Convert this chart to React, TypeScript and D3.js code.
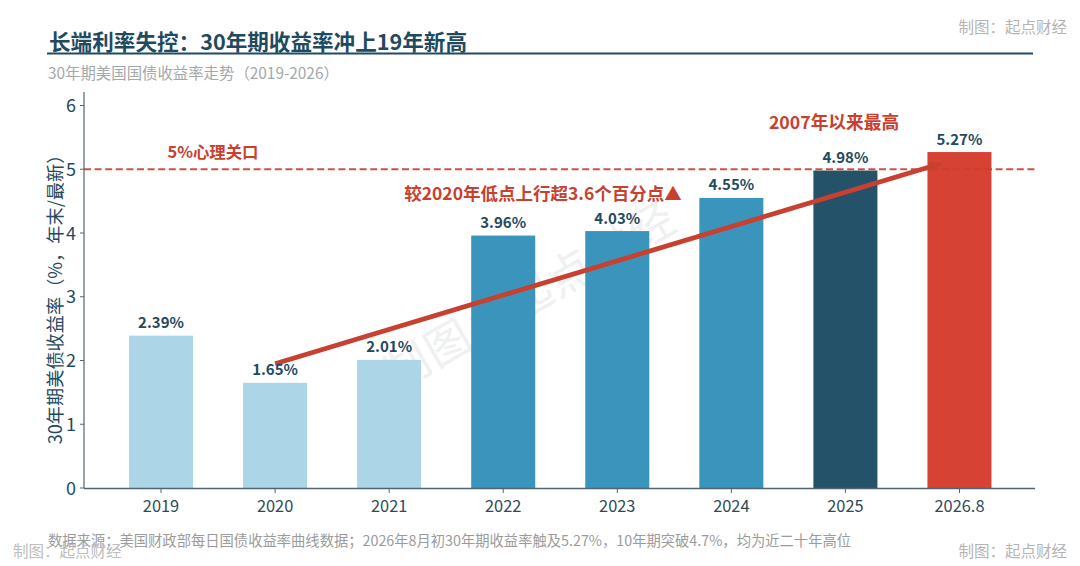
import React from "react";
import * as d3 from "d3";

const categories = ["2019", "2020", "2021", "2022", "2023", "2024", "2025", "2026.8"];
const yields = [2.39, 1.65, 2.01, 3.96, 4.03, 4.55, 4.98, 5.27];
const barColors = ["#acd6e8", "#acd6e8", "#acd6e8", "#3a94bb", "#3a94bb", "#3a94bb", "#245268", "#d64335"];
const yTicks = [0, 1, 2, 3, 4, 5, 6];
const threshold = 5;
const trendFrom = { cat: "2020", value: 1.95 };
const trendTo = { cat: "2026.8", value: 5.0 };

const FONT = "'Noto Sans CJK SC', 'Noto Sans', sans-serif";
const NAVY = "#1f4a5f";
const RED = "#c9402f";

export default function App() {
  const W = 1080, H = 566;
  const x = d3.scaleBand<string>().domain(categories).range([104, 1016.5]).paddingInner(0.4386).paddingOuter(0.2193);
  const y = d3.scaleLinear().domain([0, 6]).range([488, 105.5]);
  const cx = (c: string) => (x(c) as number) + x.bandwidth() / 2;
  const tx2 = cx(trendTo.cat) - 16;
  const ty2 = y(trendTo.value) - 6.5;
  const tx1 = cx(trendFrom.cat);
  const ty1 = y(trendFrom.value);
  const ang = Math.atan2(ty2 - ty1, tx2 - tx1);
  const head = (l: number, w: number) => {
    const bx = tx2 - l * Math.cos(ang), by = ty2 - l * Math.sin(ang);
    const nx = -Math.sin(ang) * w, ny = Math.cos(ang) * w;
    return `${tx2},${ty2} ${bx + nx},${by + ny} ${bx - nx},${by - ny}`;
  };
  const line = d3.line<[number, number]>();
  return (
    <svg width={W} height={H} viewBox={`0 0 ${W} ${H}`} style={{ position: "absolute", left: 0, top: 0, background: "#fff" }} fontFamily={FONT}>
      {/* Title */}
      <text x={49} y={50} fontSize={21.6} fontWeight={700} fill={NAVY}>长端利率失控：30年期收益率冲上19年新高</text>
      <rect x={47} y={52.5} width={986} height={2} fill={NAVY} />
      <text x={48} y={78.5} fontSize={15.4} fill="#a3a8aa">30年期美国国债收益率走势（2019-2026）</text>
      <text x={1067} y={33} textAnchor="end" fontSize={15.5} fill="#b4b4b4">制图：起点财经</text>

      {/* Watermark */}
      <text x={530} y={296} dy={16} textAnchor="middle" fontSize={45} fill="#eef0f1" transform="rotate(-30 530 296)" letterSpacing={2}>制图：起点财经</text>

      {/* Bars */}
      {categories.map((c, i) => (
        <rect key={c} x={x(c)} y={y(yields[i])} width={x.bandwidth()} height={y(0) - y(yields[i])} fill={barColors[i]} />
      ))}

      {/* 5% line */}
      <line x1={84} x2={1035} y1={y(threshold)} y2={y(threshold)} stroke={RED} strokeWidth={2.2} strokeDasharray="7 3.6" opacity={0.9} />
      <text x={213} y={158} textAnchor="middle" fontSize={16.4} fontWeight={700} fill={RED}>5%心理关口</text>

      {/* Axes */}
      <line x1={84} x2={84} y1={92} y2={488} stroke="#4d6672" strokeWidth={1.2} />
      <line x1={84} x2={1035} y1={488.5} y2={488.5} stroke="#4d6672" strokeWidth={1.4} />
      {yTicks.map(t => (
        <g key={t}>
          <line x1={80} x2={84} y1={y(t)} y2={y(t)} stroke="#4d6672" />
          <text x={76} y={y(t) + 6.5} textAnchor="end" fontSize={18} fill={NAVY}>{t}</text>
        </g>
      ))}
      {categories.map(c => (
        <g key={c}>
          <line x1={cx(c)} x2={cx(c)} y1={489} y2={493} stroke="#4d6672" />
          <text x={cx(c)} y={511.5} textAnchor="middle" fontSize={16.4} fill="#2f4a57">{c}</text>
        </g>
      ))}
      <text transform="translate(62,295) rotate(-90)" textAnchor="middle" fontSize={18.2} fill={NAVY}>30年期美债收益率（%，年末/最新）</text>

      {/* Trend arrow */}
      <path d={line([[tx1, ty1], [tx2 - 6 * Math.cos(ang), ty2 - 6 * Math.sin(ang)]]) as string} stroke="#c8402f" strokeWidth={4.8} fill="none" />
      <polygon points={head(14, 5)} fill="#c8402f" />

      {/* Value labels */}
      {categories.map((c, i) => (
        <text key={c} x={cx(c)} y={y(yields[i]) - 7.5} textAnchor="middle" fontSize={15} fontWeight={700} fill={NAVY}>{yields[i].toFixed(2)}%</text>
      ))}

      {/* Annotations */}
      <text x={543} y={200} textAnchor="middle" fontSize={17.5} fontWeight={700} fill={RED}>较2020年低点上行超3.6个百分点▲</text>
      <text x={834} y={129} textAnchor="middle" fontSize={17.7} fontWeight={700} fill={RED}>2007年以来最高</text>

      {/* Footer */}
      <text x={48} y={546} fontSize={14.3} fill="#9b9b9b">数据来源：美国财政部每日国债收益率曲线数据；2026年8月初30年期收益率触及5.27%，10年期突破4.7%，均为近二十年高位</text>
      <text x={13} y={557} fontSize={15.5} fill="#bdbdbd">制图：起点财经</text>
      <text x={1067} y={557} textAnchor="end" fontSize={15.5} fill="#b4b4b4">制图：起点财经</text>
    </svg>
  );
}
